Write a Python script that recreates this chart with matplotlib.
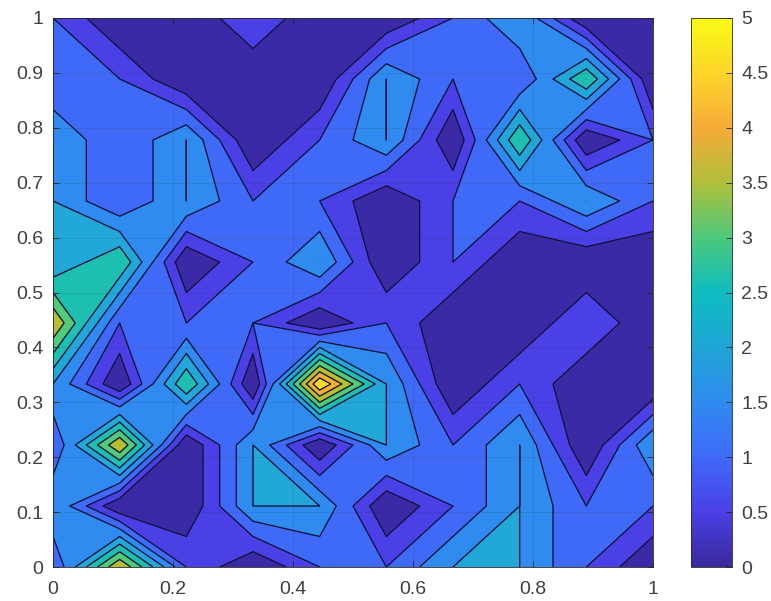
import numpy as np
import matplotlib
matplotlib.use('Agg')
import matplotlib.pyplot as plt
from matplotlib.cm import ScalarMappable
from matplotlib.colors import LinearSegmentedColormap, Normalize

plt.rcParams['font.family'] = ['Liberation Sans', 'DejaVu Sans']

# values on the 10 x 10 grid, first row is y = 0
row_0 = [1, 4, 1, 0, 1, 1, 2, 2, 1, 0]
row_1 = [2, 0, 0, 2, 2, 0, 1, 2, 1, 1]
row_2 = [1, 4, 0, 2, 0, 2, 1, 2, 0, 2]
row_3 = [2, 0, 3, 0, 5, 2, 0, 1, 0, 0]
row_4 = [4, 1, 1, 1, 0, 1, 0, 0, 1, 0]
row_5 = [2, 3, 0, 1, 2, 0, 1, 0, 0, 0]
row_6 = [2, 1, 2, 1, 1, 0, 1, 1, 2, 1]
row_7 = [2, 1, 2, 0, 1, 2, 0, 3, 0, 1]
row_8 = [1, 1, 0, 0, 0, 2, 1, 1, 3, 0]
row_9 = [1, 0, 0, 1, 0, 0, 1, 2, 0, 0]

levels = [0, 0.5, 1, 1.5, 2, 2.5, 3, 3.5, 4, 4.5]
band_colors = ['#3a2aa5', '#4a40e6', '#3f6af8', '#2f8bef', '#22a8d8',
               '#1dbfb0', '#50cc78', '#b3c030', '#f5b030', '#fdd825']
bar_colors = ['#38299b', '#4a40e6', '#3f6af8', '#2f8bef', '#1fa5d5', '#0fbcc0',
              '#4cc97c', '#b0bf3a', '#f5ab38', '#fdd42a', '#f9fb15']
x_ticks = [0, 0.2, 0.4, 0.6, 0.8, 1]
y_ticks = [0, 0.1, 0.2, 0.3, 0.4, 0.5, 0.6, 0.7, 0.8, 0.9, 1]
bar_ticks = [0, 0.5, 1, 1.5, 2, 2.5, 3, 3.5, 4, 4.5, 5]

W, H = 771, 601
TEXT = '#404040'
z = np.array([row_0, row_1, row_2, row_3, row_4, row_5, row_6, row_7, row_8, row_9], dtype=float)
x = np.linspace(0, 1, z.shape[1])
y = np.linspace(0, 1, z.shape[0])

fig = plt.figure(figsize=(W / 100, H / 100), dpi=100)
ax = fig.add_axes([53 / W, 1 - 567 / H, 600 / W, 549 / H])

# shifted a hair so that plateaus sitting exactly on a level still get a line, as in MATLAB
eps = 1e-6
shifted = np.array(levels) - eps
ax.contourf(x, y, z, levels=list(shifted) + [5.1], colors=band_colors)
ax.contour(x, y, z, levels=shifted[1:], colors='#10103a', linewidths=0.95)

ax.set_xlim(0, 1)
ax.set_ylim(0, 1)
ax.set_xticks(x_ticks)
ax.set_xticklabels(['0', '0.2', '0.4', '0.6', '0.8', '1'])
ax.set_yticks(y_ticks)
ax.set_yticklabels(['0', '0.1', '0.2', '0.3', '0.4', '0.5', '0.6', '0.7', '0.8', '0.9', '1'])
ax.tick_params(direction='in', length=4.5, width=0.6, color='#262626', labelcolor=TEXT,
               labelsize=14, top=True, right=True)
ax.tick_params(axis='x', pad=10)
ax.tick_params(axis='y', pad=7)
ax.grid(True, color='#262626', alpha=0.13, linewidth=0.6)
ax.set_axisbelow(False)
for spine in ax.spines.values():
    spine.set_linewidth(0.6)
    spine.set_color('#262626')

cax = fig.add_axes([691 / W, 1 - 567 / H, 41 / W, 549 / H])
cmap = LinearSegmentedColormap.from_list('bar', bar_colors)
cb = fig.colorbar(ScalarMappable(norm=Normalize(0, 5), cmap=cmap), cax=cax)
cb.set_ticks(bar_ticks)
cb.set_ticklabels(['0', '0.5', '1', '1.5', '2', '2.5', '3', '3.5', '4', '4.5', '5'])
cb.ax.tick_params(direction='in', length=4, width=0.6, color='#262626', labelcolor=TEXT,
                  labelsize=14, pad=6.5)
cb.outline.set_linewidth(0.6)
cb.outline.set_edgecolor('#262626')

fig.savefig('out.png', dpi=100)
